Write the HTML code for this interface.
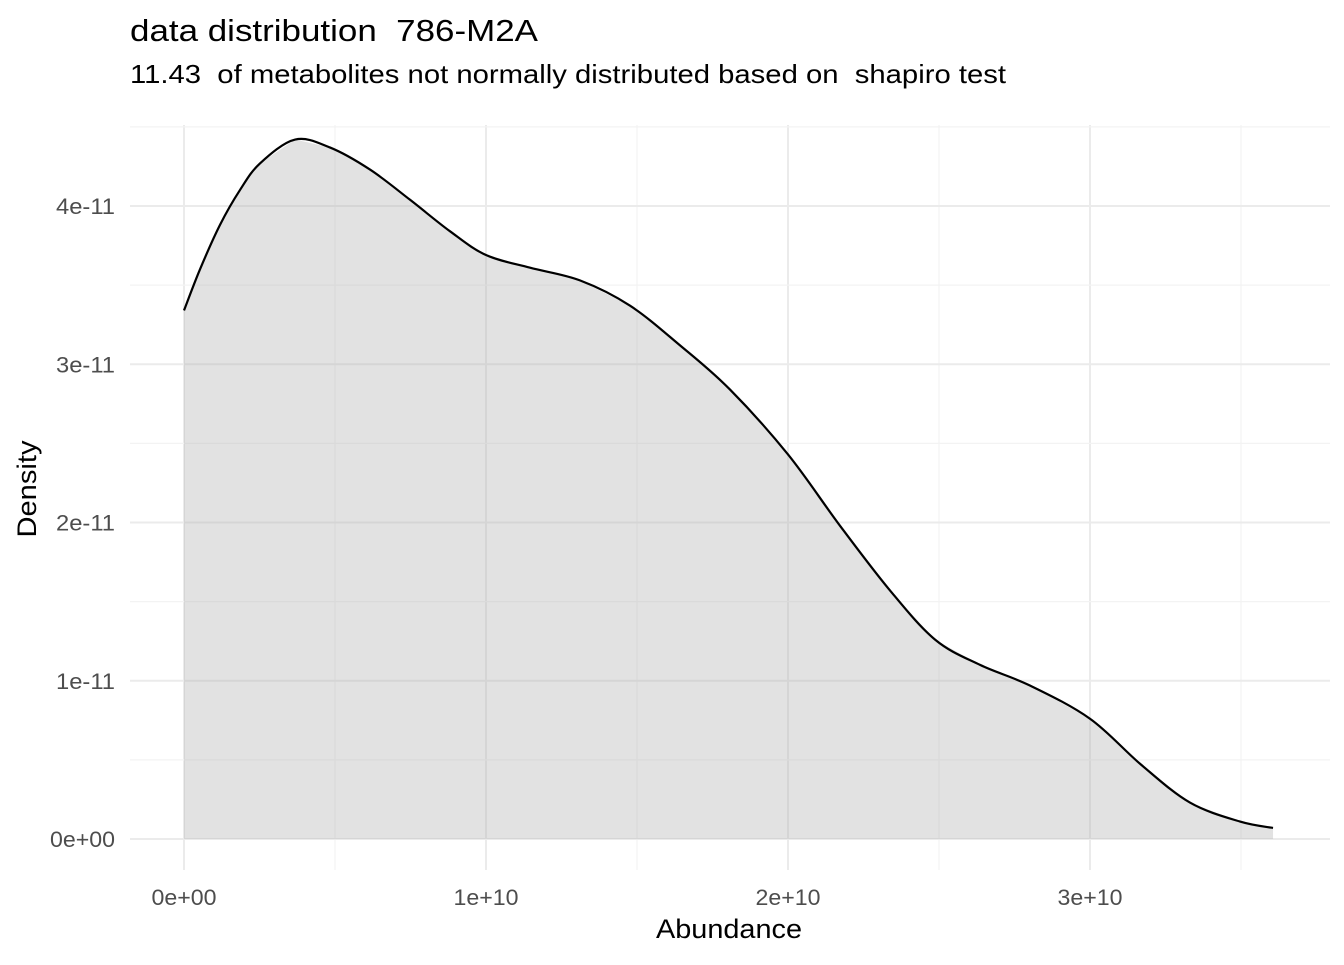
<!DOCTYPE html>
<html><head><meta charset="utf-8"><style>
body{margin:0;background:#fff;font-family:"Liberation Sans",sans-serif;}
text{white-space:pre;}
</style></head><body>
<svg width="1344" height="960" xmlns="http://www.w3.org/2000/svg" font-family="Liberation Sans, sans-serif" xml:space="preserve">
<text x="130" y="41" font-size="31" textLength="408" lengthAdjust="spacingAndGlyphs" fill="#000">data distribution  786-M2A</text>
<text x="130" y="83" font-size="26" textLength="876" lengthAdjust="spacingAndGlyphs" fill="#000">11.43  of metabolites not normally distributed based on  shapiro test</text>
<g id="grid"></g>
<g id="marks"></g>
<g id="axes"></g>
<text x="729" y="938" font-size="27" textLength="146" lengthAdjust="spacingAndGlyphs" text-anchor="middle" fill="#000">Abundance</text>
<text transform="translate(36,489) rotate(-90)" font-size="27" textLength="97" lengthAdjust="spacingAndGlyphs" text-anchor="middle" fill="#000">Density</text>
</svg>
<script>
const xs = [0,0.053,0.119,0.185,0.252,0.368,0.483,0.616,0.748,0.881,1.0,1.146,1.311,1.477,1.642,1.808,2.0,2.172,2.338,2.487,2.636,2.801,3.0,3.169,3.331,3.497,3.606];
const ys = [3.34,3.6,3.88,4.1,4.27,4.42,4.37,4.23,4.04,3.84,3.69,3.61,3.53,3.37,3.12,2.84,2.43,1.98,1.57,1.26,1.10,0.97,0.76,0.47,0.23,0.11,0.07];
const xTicks = [0,1,2,3];
const xTickLabels = ["0e+00","1e+10","2e+10","3e+10"];
const yTicks = [0,1,2,3,4];
const yTickLabels = ["0e+00","1e-11","2e-11","3e-11","4e-11"];
const NS="http://www.w3.org/2000/svg";
const X=v=>184+v*302, Y=v=>839-v*158.25;
const L=130,R=1330,T=125,B=870;
const grid=document.getElementById('grid'), marks=document.getElementById('marks'), axes=document.getElementById('axes');
function line(p,x1,y1,x2,y2,c,w){const l=document.createElementNS(NS,'line');l.setAttribute('x1',x1);l.setAttribute('y1',y1);l.setAttribute('x2',x2);l.setAttribute('y2',y2);l.setAttribute('stroke',c);l.setAttribute('stroke-width',w);p.appendChild(l);return l;}
for(let v=-0.5;v<=3.6;v+=0.5){const x=X(v);if(x<L||x>R)continue;const major=Math.abs(v-Math.round(v))<1e-9;const g=line(grid,x,T,x,B,major?'#ebebeb':'#f3f3f3',major?2:1.3);

}
for(let v=-0.5;v<=4.6;v+=0.5){const y=Y(v);if(y<T||y>B)continue;const major=Math.abs(v-Math.round(v))<1e-9;const g=line(grid,L,y,R,y,major?'#ebebeb':'#f3f3f3',major?2:1.3);

}
let d='M'+X(xs[0])+','+Y(0);
xs.forEach((x,i)=>d+=' L'+X(x)+','+Y(ys[i]));
d+=' L'+X(xs[xs.length-1])+','+Y(0)+' Z';
const area=document.createElementNS(NS,'path');area.setAttribute('d',d);area.setAttribute('fill','rgba(180,180,180,0.38)');


marks.appendChild(area);
const pts=xs.map((x,i)=>[X(x),Y(ys[i])]);
let c='M'+pts[0][0]+','+pts[0][1];
for(let i=0;i<pts.length-1;i++){const p0=pts[Math.max(0,i-1)],p1=pts[i],p2=pts[i+1],p3=pts[Math.min(pts.length-1,i+2)];
c+=' C'+(p1[0]+(p2[0]-p0[0])/6)+','+(p1[1]+(p2[1]-p0[1])/6)+' '+(p2[0]-(p3[0]-p1[0])/6)+','+(p2[1]-(p3[1]-p1[1])/6)+' '+p2[0]+','+p2[1];}
const cur=document.createElementNS(NS,'path');cur.setAttribute('d',c);cur.setAttribute('fill','none');cur.setAttribute('stroke','#000');cur.setAttribute('stroke-width','2.2');


marks.appendChild(cur);
xTicks.forEach((v,i)=>{const t=document.createElementNS(NS,'text');t.setAttribute('x',X(v));t.setAttribute('y',905);t.setAttribute('font-size','22');t.setAttribute('textLength','65');t.setAttribute('lengthAdjust','spacingAndGlyphs');t.setAttribute('fill','#4d4d4d');t.setAttribute('text-anchor','middle');t.textContent=xTickLabels[i];


axes.appendChild(t);});
yTicks.forEach((v,i)=>{const t=document.createElementNS(NS,'text');t.setAttribute('x',115);t.setAttribute('y',Y(v)+8);t.setAttribute('font-size','22');t.setAttribute('textLength',i===0?'65':'59');t.setAttribute('lengthAdjust','spacingAndGlyphs');t.setAttribute('fill','#4d4d4d');t.setAttribute('text-anchor','end');t.textContent=yTickLabels[i];


axes.appendChild(t);});
</script>
</body></html>
